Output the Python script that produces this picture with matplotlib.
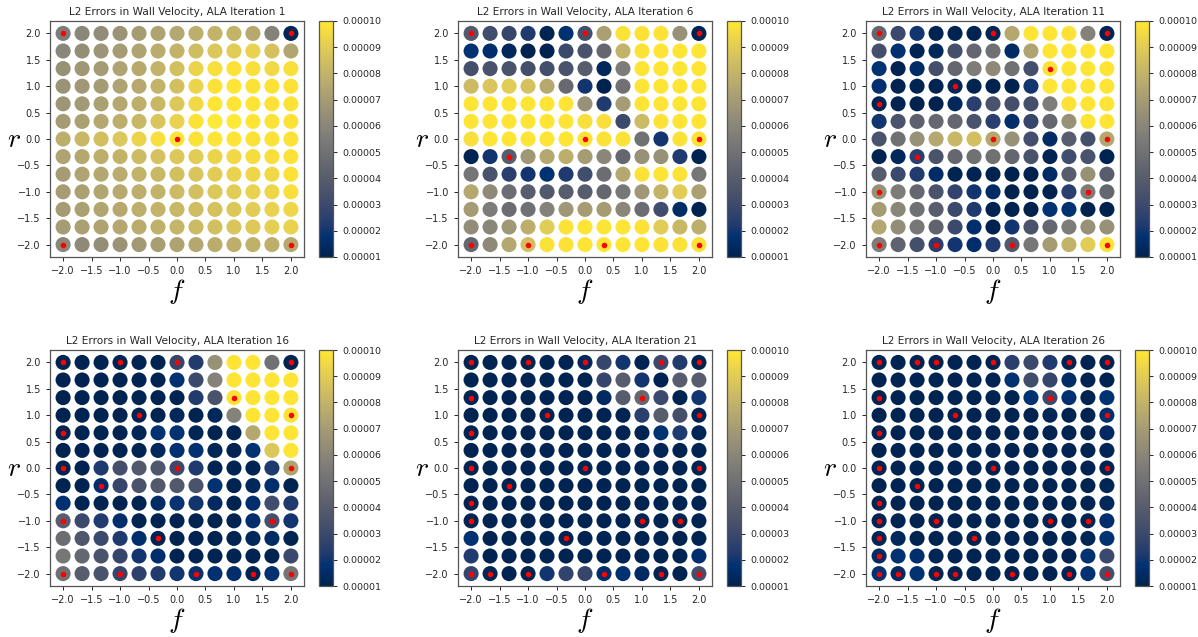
import numpy as np
import matplotlib
matplotlib.use("Agg")
import matplotlib.pyplot as plt

plt.rcParams["mathtext.fontset"] = "cm"

# Parameter grid: 13 x 13 points over f and r in [-2, 2]
f_vals = np.linspace(-2, 2, 13)
r_vals = np.linspace(2, -2, 13)          # rows below are listed from r = 2 down to r = -2

iterations = [1, 6, 11, 16, 21, 26]
ERR_UNIT = 1e-5                           # error tables are given in units of 1e-5

err_it1 = [
    [5.5, 6.0, 6.3, 6.6, 7.0, 7.3, 7.5, 7.8, 8.0, 8.0, 7.6, 5.8, 1.2],
    [6.0, 6.4, 6.7, 7.0, 7.3, 7.7, 8.0, 8.4, 8.8, 9.0, 9.2, 8.6, 7.4],
    [6.5, 6.8, 7.0, 7.3, 7.6, 8.0, 8.5, 9.3, 9.7, 9.8, 9.7, 9.5, 9.7],
    [6.6, 6.8, 7.0, 7.3, 7.6, 8.0, 8.5, 9.3, 9.8, 9.9, 9.8, 9.8, 9.8],
    [6.7, 6.9, 7.2, 7.5, 7.8, 8.2, 8.8, 9.5, 9.9, 9.9, 9.9, 9.8, 9.8],
    [7.0, 7.2, 7.5, 7.8, 8.2, 8.7, 9.2, 9.8, 10.0, 10.0, 9.9, 9.8, 9.8],
    [7.8, 8.2, 8.5, 8.8, 9.3, 9.7, 9.9, 9.8, 9.9, 9.9, 9.8, 9.8, 9.8],
    [7.3, 7.5, 7.8, 8.0, 8.3, 8.6, 8.8, 9.0, 9.3, 9.5, 9.6, 9.7, 9.8],
    [7.0, 7.3, 7.5, 7.7, 8.0, 8.2, 8.5, 8.7, 9.0, 9.2, 9.4, 9.5, 9.8],
    [7.0, 7.2, 7.4, 7.6, 7.8, 8.0, 8.3, 8.5, 8.8, 9.0, 9.2, 9.4, 9.7],
    [7.0, 7.2, 7.4, 7.6, 7.8, 8.0, 8.2, 8.4, 8.6, 8.8, 9.0, 9.2, 9.4],
    [7.0, 7.2, 7.3, 7.5, 7.7, 7.9, 8.1, 8.3, 8.5, 8.7, 8.9, 9.1, 9.2],
    [6.0, 6.2, 6.4, 6.6, 6.9, 7.1, 7.3, 7.5, 7.7, 7.8, 7.9, 7.8, 7.6],
]

err_it6 = [
    [3.8, 3.2, 2.8, 2.2, 1.1, 1.7, 3.3, 7.2, 9.8, 9.8, 9.8, 6.5, 1.1],
    [1.8, 1.6, 1.3, 1.0, 1.1, 3.0, 3.5, 4.5, 8.0, 9.8, 9.9, 9.9, 9.9],
    [3.3, 3.5, 3.5, 3.3, 3.3, 3.5, 4.0, 1.3, 5.5, 9.9, 9.9, 9.9, 9.9],
    [8.3, 8.7, 9.0, 8.6, 7.6, 4.6, 2.0, 1.0, 5.0, 9.9, 9.9, 9.9, 9.9],
    [9.9, 9.9, 9.9, 9.9, 9.9, 9.9, 6.5, 2.3, 7.0, 9.9, 9.9, 9.9, 9.9],
    [9.9, 9.9, 9.9, 9.9, 9.9, 9.9, 9.7, 9.7, 3.0, 8.3, 9.8, 9.9, 9.9],
    [9.7, 9.9, 9.9, 9.9, 9.9, 9.9, 9.8, 9.8, 9.8, 5.0, 2.0, 9.8, 9.8],
    [1.1, 2.0, 4.0, 6.8, 7.5, 7.8, 7.0, 6.0, 4.5, 6.5, 6.5, 2.3, 1.1],
    [5.2, 3.5, 2.5, 2.0, 1.8, 2.2, 3.2, 4.8, 7.5, 9.8, 9.9, 9.8, 5.3],
    [7.5, 6.2, 4.8, 4.0, 3.8, 4.0, 4.0, 4.5, 5.3, 6.8, 8.0, 9.0, 7.2],
    [7.0, 5.5, 4.8, 5.0, 5.8, 6.8, 7.0, 7.0, 6.0, 4.8, 3.2, 1.5, 1.1],
    [6.3, 6.0, 6.8, 7.8, 9.0, 9.8, 9.9, 9.9, 9.9, 9.8, 9.0, 8.2, 7.8],
    [4.5, 6.2, 7.5, 8.5, 9.8, 9.8, 9.9, 9.9, 9.9, 9.9, 9.8, 9.8, 9.8],
]

err_it11 = [
    [4.5, 3.0, 2.0, 1.1, 1.1, 1.1, 1.2, 7.5, 9.9, 9.9, 9.8, 5.8, 1.1],
    [3.3, 1.7, 1.1, 1.3, 3.3, 4.5, 5.0, 1.5, 7.3, 9.9, 9.9, 9.9, 9.9],
    [1.8, 1.1, 1.5, 3.3, 4.5, 5.5, 6.2, 5.0, 3.3, 9.8, 9.9, 9.9, 9.9],
    [1.7, 1.1, 1.1, 1.1, 1.2, 1.1, 1.0, 1.0, 2.0, 9.9, 9.9, 9.9, 9.9],
    [1.1, 1.1, 1.0, 1.0, 1.3, 2.5, 3.5, 3.3, 3.3, 5.5, 9.8, 9.9, 9.9],
    [2.0, 3.5, 4.2, 4.5, 4.5, 3.5, 2.5, 1.6, 2.8, 4.5, 6.5, 9.9, 9.9],
    [3.5, 5.0, 6.5, 7.5, 8.2, 8.5, 7.5, 6.5, 3.3, 1.5, 4.0, 3.3, 7.5],
    [1.1, 1.3, 2.5, 3.5, 4.5, 5.0, 5.0, 4.5, 3.5, 1.1, 3.2, 3.5, 1.1],
    [4.0, 3.0, 2.3, 1.5, 1.1, 1.1, 1.0, 1.0, 1.0, 1.5, 4.0, 6.5, 4.0],
    [6.5, 5.5, 4.5, 3.5, 2.7, 2.0, 1.5, 1.0, 1.0, 1.0, 2.5, 5.5, 4.5],
    [7.0, 6.0, 5.0, 4.0, 3.0, 2.2, 1.1, 1.0, 1.0, 1.8, 1.8, 1.0, 1.0],
    [7.5, 6.3, 5.3, 4.3, 3.0, 1.6, 1.0, 2.0, 3.5, 4.5, 5.5, 6.5, 6.5],
    [5.5, 4.3, 3.3, 2.5, 2.0, 1.6, 2.3, 3.8, 5.3, 7.0, 8.0, 9.0, 9.8],
]

err_it16 = [
    [1.1, 1.1, 1.1, 1.1, 1.1, 1.1, 2.8, 2.3, 6.5, 9.9, 9.9, 5.0, 1.1],
    [1.1, 1.1, 1.1, 1.1, 1.1, 1.1, 1.8, 3.0, 5.8, 9.9, 9.9, 9.9, 9.9],
    [1.1, 1.1, 1.1, 1.1, 1.1, 1.1, 1.1, 2.3, 3.5, 9.8, 9.9, 9.9, 9.9],
    [1.1, 1.1, 1.1, 1.1, 1.1, 1.1, 1.3, 1.1, 1.3, 5.8, 9.9, 9.9, 9.8],
    [1.1, 1.1, 1.1, 1.1, 1.2, 1.8, 1.8, 1.2, 1.1, 1.1, 7.5, 9.9, 9.9],
    [1.1, 1.1, 1.1, 1.1, 1.1, 1.3, 1.7, 1.8, 1.2, 1.1, 1.8, 8.8, 9.9],
    [1.1, 1.1, 2.2, 3.3, 3.8, 3.7, 3.0, 2.2, 1.1, 1.1, 1.1, 2.2, 7.3],
    [1.1, 1.1, 1.6, 2.8, 3.5, 3.8, 3.8, 3.5, 1.8, 1.1, 1.3, 1.6, 1.1],
    [1.7, 1.1, 1.1, 1.1, 1.1, 1.5, 1.9, 2.0, 1.4, 1.1, 1.6, 3.2, 2.2],
    [4.0, 3.0, 2.3, 1.6, 1.1, 1.1, 1.1, 1.1, 1.1, 1.1, 1.6, 3.3, 2.0],
    [4.8, 3.7, 3.0, 2.2, 1.6, 1.1, 1.1, 1.1, 1.1, 1.1, 1.3, 1.5, 1.1],
    [5.3, 4.5, 3.5, 2.8, 2.0, 1.6, 1.1, 1.1, 1.1, 1.1, 1.1, 1.1, 3.0],
    [5.0, 4.0, 3.5, 2.8, 2.6, 2.3, 2.0, 1.9, 1.7, 1.6, 1.1, 1.7, 5.2],
]

err_it21 = [
    [1.1, 1.1, 1.1, 1.1, 1.1, 1.1, 1.3, 2.8, 2.0, 1.1, 3.0, 2.3, 1.1],
    [1.1, 1.1, 1.1, 1.1, 1.1, 1.1, 1.1, 2.8, 4.0, 2.0, 1.1, 4.0, 4.0],
    [1.1, 1.1, 1.1, 1.1, 1.1, 1.1, 1.1, 1.4, 4.0, 4.5, 3.0, 1.1, 2.0],
    [1.1, 1.1, 1.1, 1.1, 1.1, 1.1, 1.1, 1.1, 1.1, 2.5, 4.0, 3.3, 1.1],
    [1.1, 1.1, 1.1, 1.1, 1.1, 1.1, 1.1, 1.1, 1.1, 1.1, 1.8, 2.2, 1.2],
    [1.1, 1.1, 1.1, 1.1, 1.1, 1.1, 1.1, 1.1, 1.1, 1.1, 1.2, 1.1, 1.1],
    [1.1, 1.1, 1.1, 1.1, 1.1, 1.1, 1.1, 1.1, 1.1, 1.1, 1.1, 1.1, 1.1],
    [1.1, 1.1, 1.1, 1.1, 1.1, 1.1, 1.1, 1.1, 1.1, 1.1, 1.1, 1.1, 1.1],
    [1.1, 1.1, 1.1, 1.1, 1.1, 1.1, 1.1, 1.1, 1.1, 1.1, 1.1, 1.1, 1.1],
    [1.1, 1.1, 1.1, 1.1, 1.1, 1.1, 1.1, 1.1, 1.1, 1.1, 1.1, 1.1, 1.1],
    [1.8, 1.1, 1.1, 1.1, 1.1, 1.1, 1.1, 1.1, 1.1, 1.1, 1.1, 1.1, 1.1],
    [2.3, 1.1, 1.1, 1.1, 1.1, 1.1, 1.1, 1.1, 1.1, 1.1, 1.1, 1.1, 1.6],
    [2.8, 1.2, 1.1, 1.1, 2.0, 2.7, 2.8, 1.6, 1.8, 1.4, 1.1, 1.1, 3.3],
]

err_it26 = [
    [1.1, 1.1, 1.1, 1.1, 1.1, 1.1, 1.1, 2.5, 3.0, 2.2, 1.1, 1.1, 1.1],
    [1.1, 1.1, 1.1, 1.1, 1.1, 1.1, 1.1, 1.8, 3.2, 2.8, 1.5, 1.1, 1.1],
    [1.1, 1.1, 1.1, 1.1, 1.1, 1.1, 1.1, 1.1, 1.8, 3.0, 1.7, 1.1, 1.8],
    [1.1, 1.1, 1.1, 1.1, 1.1, 1.1, 1.1, 1.1, 1.1, 1.2, 1.1, 1.1, 1.7],
    [1.1, 1.1, 1.1, 1.1, 1.1, 1.1, 1.1, 1.1, 1.1, 1.1, 1.1, 1.1, 1.4],
    [1.1, 1.1, 1.1, 1.1, 1.1, 1.1, 1.1, 1.1, 1.1, 1.1, 1.1, 1.1, 1.2],
    [1.1, 1.1, 1.1, 1.1, 1.1, 1.1, 1.1, 1.1, 1.1, 1.1, 1.1, 1.1, 1.1],
    [1.1, 1.1, 1.1, 1.1, 1.1, 1.1, 1.1, 1.1, 1.1, 1.1, 1.1, 1.1, 1.2],
    [1.1, 1.1, 1.1, 1.1, 1.1, 1.1, 1.1, 1.1, 1.1, 1.1, 1.1, 1.1, 1.3],
    [1.1, 1.1, 1.1, 1.1, 1.1, 1.1, 1.1, 1.1, 1.1, 1.1, 1.1, 1.1, 1.6],
    [1.2, 1.3, 1.1, 1.1, 1.1, 1.1, 1.1, 1.1, 1.1, 1.1, 1.1, 1.2, 1.8],
    [1.4, 1.8, 1.6, 1.2, 1.1, 1.1, 1.1, 1.1, 1.1, 1.1, 1.1, 1.8, 3.0],
    [1.8, 1.4, 1.8, 1.2, 1.1, 1.1, 1.1, 1.1, 1.1, 1.1, 1.1, 1.8, 3.3],
]

# Sample locations (f, r) used by the ALA at each iteration
samples_it1 = [(-2, 2), (2, 2), (0, 0), (-2, -2), (2, -2)]
samples_it6 = [(-2, 2), (0, 2), (2, 2), (0, 0), (2, 0), (-4/3, -1/3),
               (-2, -2), (-1, -2), (1/3, -2), (2, -2)]
samples_it11 = samples_it6 + [(1, 4/3), (-2/3, 1), (-2, 2/3), (-2, -1), (5/3, -1)]
samples_it16 = samples_it11 + [(-1, 2), (2, 1), (-2, 0), (-1/3, -4/3), (4/3, -2)]
samples_it21 = samples_it16 + [(4/3, 2), (-2, 4/3), (-2, -2/3), (1, -1), (-5/3, -2)]
samples_it26 = samples_it21 + [(-4/3, 2), (-1, -1), (-2, -4/3), (-2, -5/3), (-2/3, -2)]

errors = [err_it1, err_it6, err_it11, err_it16, err_it21, err_it26]
samples = [samples_it1, samples_it6, samples_it11, samples_it16, samples_it21, samples_it26]

cbar_ticks = [1e-5, 2e-5, 3e-5, 4e-5, 5e-5, 6e-5, 7e-5, 8e-5, 9e-5, 1e-4]
axis_ticks = [-2.0, -1.5, -1.0, -0.5, 0.0, 0.5, 1.0, 1.5, 2.0]

W, H = 1198, 637
fig = plt.figure(figsize=(W / 100, H / 100), dpi=100)

# layout in pixels
col_left = [50, 458, 866]
row_top = [21, 350]
ax_w, ax_h = 254, 236
cb_gap, cb_w = 15, 14

text_color = "#262626"
FF, RR = np.meshgrid(f_vals, r_vals)

for k, (it, err, pts) in enumerate(zip(iterations, errors, samples)):
    row, col = divmod(k, 3)
    left, top = col_left[col], row_top[row]
    ax = fig.add_axes([left / W, 1 - (top + ax_h) / H, ax_w / W, ax_h / H])
    cax = fig.add_axes([(left + ax_w + cb_gap) / W, 1 - (top + ax_h) / H, cb_w / W, ax_h / H])

    vals = np.array(err) * ERR_UNIT
    sc = ax.scatter(FF.ravel(), RR.ravel(), c=vals.ravel(), cmap="cividis",
                    vmin=1e-5, vmax=1e-4, s=118, linewidths=0, zorder=2)
    sf = [p[0] for p in pts]
    sr = [p[1] for p in pts]
    ax.scatter(sf, sr, color="red", s=16, linewidths=0, zorder=3)

    ax.set_xlim(-2.23, 2.23)
    ax.set_ylim(-2.235, 2.235)
    ax.set_xticks(axis_ticks)
    ax.set_yticks(axis_ticks)
    ax.tick_params(labelsize=7, colors=text_color, length=3, width=0.7)
    for sp in ax.spines.values():
        sp.set_color("#555555")
        sp.set_linewidth(0.9)
    ax.set_title(f"L2 Errors in Wall Velocity, ALA Iteration {it}",
                 fontsize=7.6, color=text_color, pad=4)
    ax.set_xlabel("$f$", fontsize=20, color="black", va="top")
    ax.xaxis.set_label_coords(0.5, -0.085)
    ax.set_ylabel("$r$", fontsize=20, color="black", rotation=0, va="center", ha="center")
    ax.yaxis.set_label_coords(-0.142, 0.5)

    cb = fig.colorbar(sc, cax=cax, ticks=cbar_ticks, format="%.5f")
    cb.ax.tick_params(labelsize=6.8, colors=text_color, length=3, width=0.7)
    cb.outline.set_edgecolor("#555555")
    cb.outline.set_linewidth(0.9)

fig.savefig("out.png", dpi=100)
